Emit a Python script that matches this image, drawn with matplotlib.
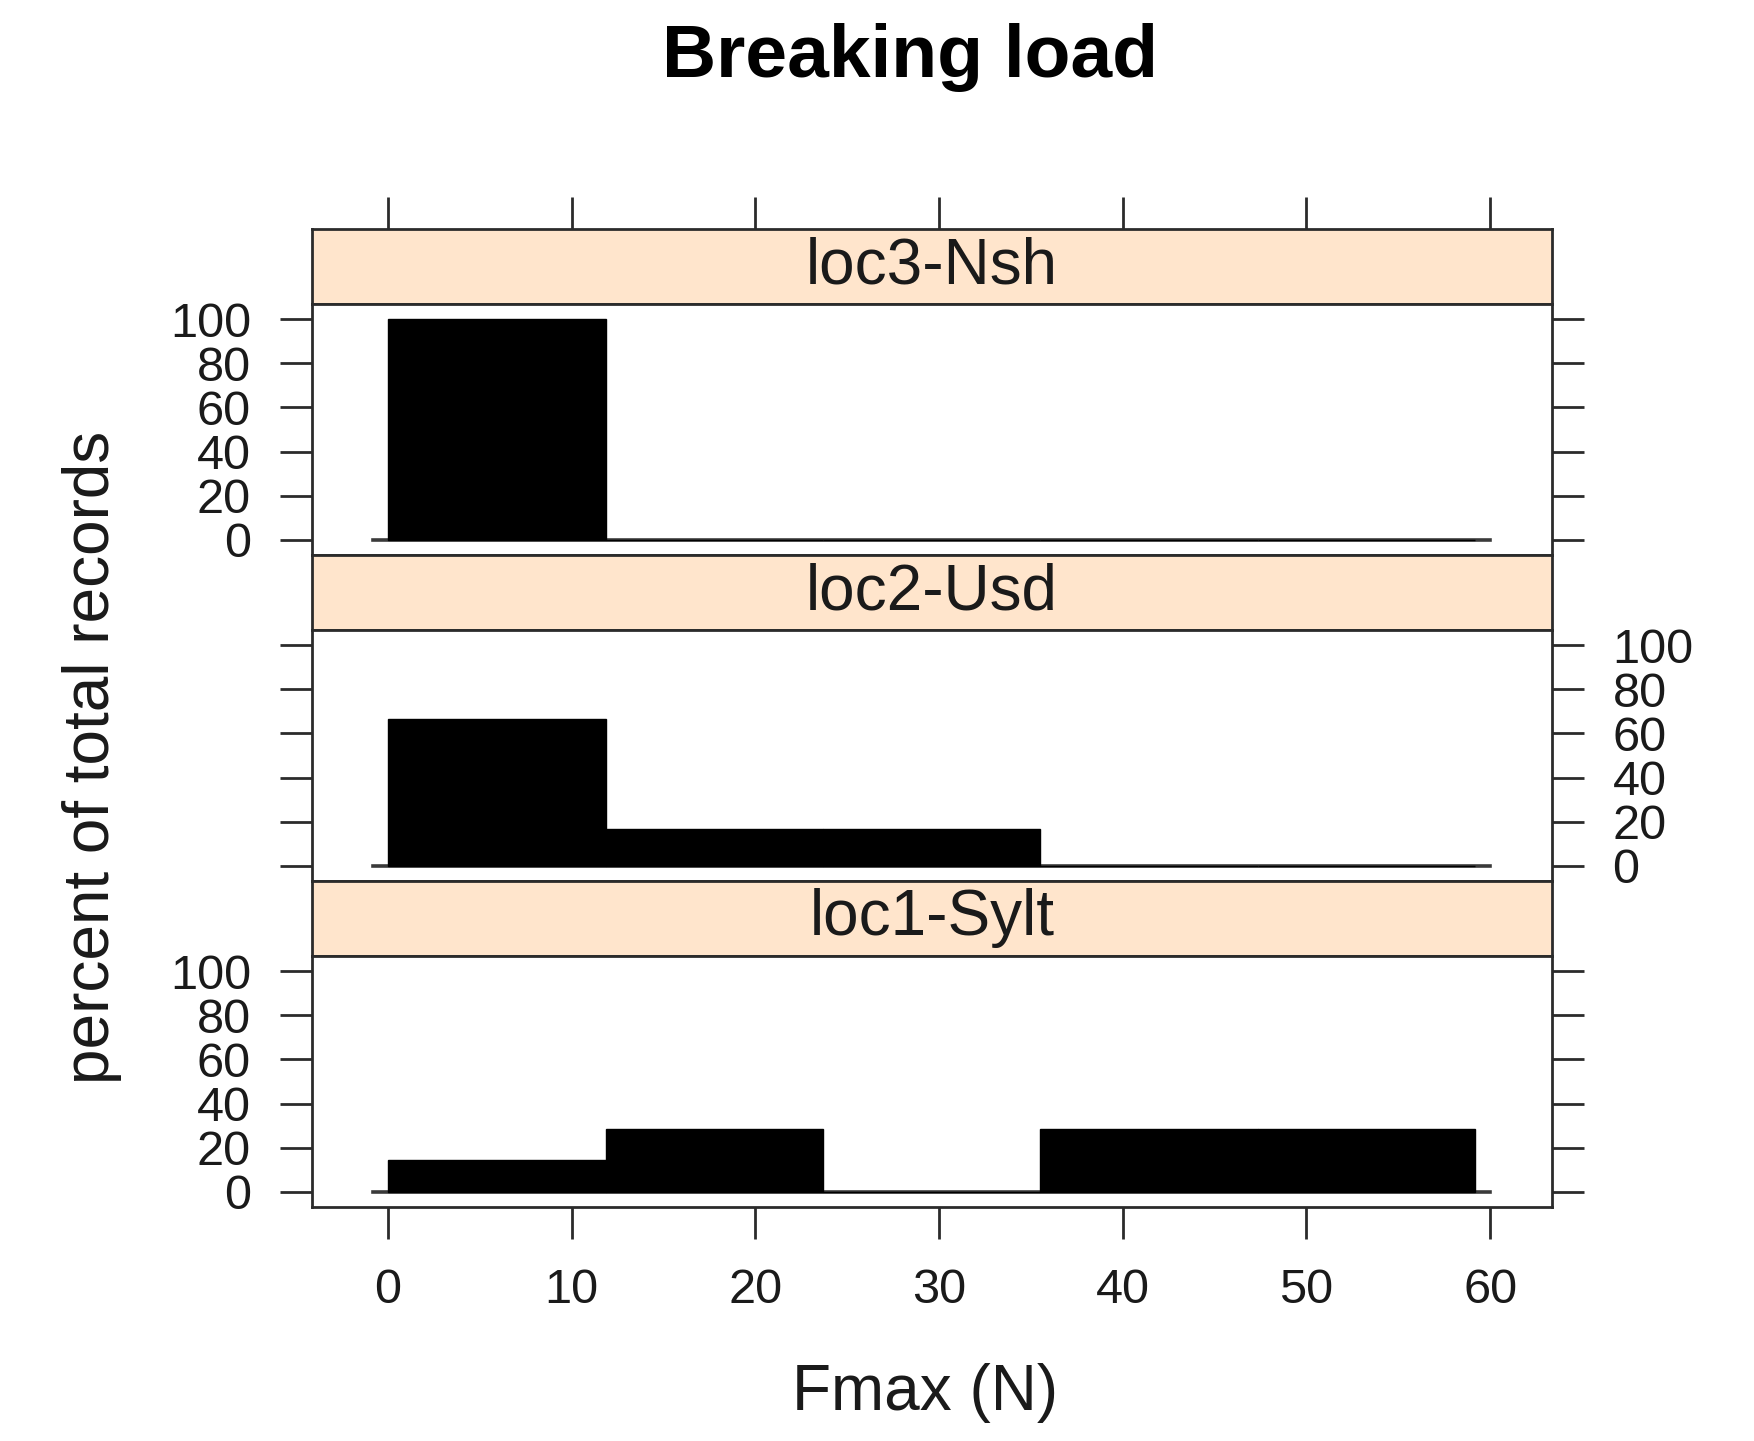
import numpy as np
from matplotlib import pyplot as plt

# histogram data (percent of total records per bin)
bin_edges = [0, 11.84, 23.68, 35.52, 47.36, 59.2]
panel_names = ['loc3-Nsh', 'loc2-Usd', 'loc1-Sylt']
pct_loc3 = [100, 0, 0, 0, 0]
pct_loc2 = [66.7, 16.7, 16.7, 0, 0]
pct_loc1 = [14.3, 28.6, 0, 28.6, 28.6]
x_ticks = [0, 10, 20, 30, 40, 50, 60]
y_ticks = [0, 20, 40, 60, 80, 100]

plt.rcParams['font.family'] = ['Liberation Sans', 'DejaVu Sans']

W, H = 1754, 1441
fig = plt.figure(figsize=(W / 100, H / 100), dpi=100)

left, right = 312, 1551.5
top = 229
strip_h, panel_h = 75, 251
edge = '#2b2b2b'
tick_kw = dict(length=23, width=2, color=edge, direction='out', pad=21,
               labelsize=35, labelcolor='#1a1a1a')

lefts = np.array(bin_edges[:-1])
widths = np.diff(bin_edges)
values = [pct_loc3, pct_loc2, pct_loc1]

for i, (name, pct) in enumerate(zip(panel_names, values)):
    y0 = top + i * (strip_h + panel_h)
    strip = fig.add_axes([left / W, 1 - (y0 + strip_h) / H, (right - left) / W, strip_h / H])
    ax = fig.add_axes([left / W, 1 - (y0 + strip_h + panel_h) / H, (right - left) / W, panel_h / H])

    strip.set_facecolor('#FFE5CC')
    strip.set_xlim(-4.14, 63.34)
    strip.set_ylim(0, 1)
    strip.set_yticks([])
    strip.text(0.5, 0.5, name, transform=strip.transAxes, ha='center', va='center',
               fontsize=46, color='#1a1a1a')
    for s in strip.spines.values():
        s.set_color(edge)
        s.set_linewidth(2)
    if i == 0:
        strip.set_xticks(x_ticks)
        strip.tick_params(axis='x', top=True, bottom=False, labeltop=False, labelbottom=False, **tick_kw)
    else:
        strip.set_xticks([])

    ax.plot([-0.8, 60], [0, 0], color='#3a3a3a', lw=2.6, zorder=1)
    ax.bar(lefts, pct, width=widths, align='edge', color='black', edgecolor='black',
           linewidth=1, zorder=2)
    ax.set_xlim(-4.14, 63.34)
    ax.set_ylim(-7, 107)
    for s in ax.spines.values():
        s.set_color(edge)
        s.set_linewidth(2)

    ax.set_yticks(y_ticks)
    if i == 1:
        ax.tick_params(axis='y', left=True, right=True, labelleft=False, labelright=True, **tick_kw)
    else:
        ax.tick_params(axis='y', left=True, right=True, labelleft=True, labelright=False, **tick_kw)

    if i == 2:
        ax.set_xticks(x_ticks)
        ax.tick_params(axis='x', bottom=True, top=False, **tick_kw)
    else:
        ax.set_xticks([])

fig.text(910 / W, 1 - 77 / H, 'Breaking load', ha='center', va='baseline',
         fontsize=54, fontweight='bold', color='black')
fig.text(925 / W, 1 - 1410 / H, 'Fmax (N)', ha='center', va='baseline',
         fontsize=46, color='#1a1a1a')
fig.text(92 / W, 1 - 757 / H, 'percent of total records', ha='center', va='center',
         rotation=90, fontsize=46, color='#1a1a1a')

fig.savefig('out.png', dpi=100)
